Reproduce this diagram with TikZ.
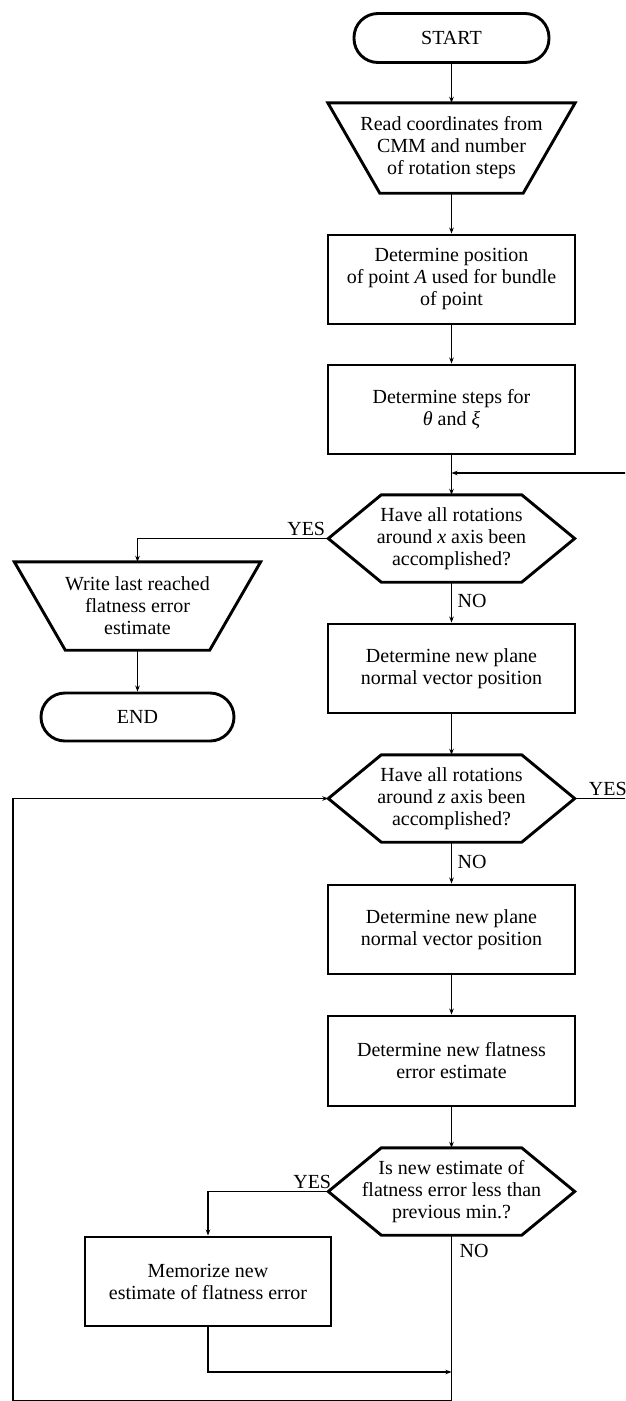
\documentclass[tikz,border=0pt]{standalone}
\usepackage{fontspec}
\setmainfont{Liberation Serif}
\usetikzlibrary{arrows.meta,calc}
\begin{document}
\begin{tikzpicture}[x=1pt,y=-1pt,
  txt/.style={font=\fontsize{20}{22}\selectfont, align=center, inner sep=0pt},
  procbox/.style={txt, draw, line width=2.9pt, minimum width=247pt, minimum height=89pt},
  shapearea/.style={txt, minimum width=246pt, minimum height=87pt},
  termbox/.style={txt, draw, line width=2.9pt, rounded corners=24pt, minimum width=195pt, minimum height=49pt},
  outline/.style={draw, line width=2.9pt, line join=miter},
  conn/.style={line width=1.5pt, -{Stealth[length=6pt,width=4.5pt]}},
  lbl/.style={font=\fontsize{20}{22}\selectfont, inner sep=0pt}]
\useasboundingbox (0,0) rectangle (625,1401);
\clip (0,0) rectangle (625,1401);

% main column
\node[termbox] (start) at (451.5,38) {START};
\node[shapearea, minimum width=247pt, minimum height=90pt] (read) at (451.5,148) {Read coordinates from\\CMM and number\\of rotation steps};
\draw[outline] (read.north west) -- (read.north east) -- ([xshift=-52pt]read.south east) -- ([xshift=52pt]read.south west) -- cycle;
\node[procbox] (pos) at (451.5,279.5) {Determine position\\of point \textit{A} used for bundle\\of point};
\node[procbox] (steps) at (451.5,409.5) {Determine steps for\\\textit{θ} and \textit{ξ}};

\node[shapearea] (h1) at (451.5,538.5) {Have all rotations\\around \textit{x} axis been\\accomplished?};
\draw[outline] (h1.west) -- ([xshift=53pt]h1.north west) -- ([xshift=-53pt]h1.north east) -- (h1.east) -- ([xshift=-53pt]h1.south east) -- ([xshift=53pt]h1.south west) -- cycle;

\node[shapearea, minimum width=246pt, minimum height=88pt] (wlast) at (137.5,606) {Write last reached\\flatness error\\estimate};
\draw[outline] (wlast.north west) -- (wlast.north east) -- ([xshift=-51pt]wlast.south east) -- ([xshift=51pt]wlast.south west) -- cycle;
\node[termbox, minimum width=193pt, minimum height=48pt] (end) at (137.5,717) {END};

\node[procbox] (plane1) at (451.5,668.5) {Determine new plane\\normal vector position};

\node[shapearea] (h2) at (451.5,798.5) {Have all rotations\\around \textit{z} axis been\\accomplished?};
\draw[outline] (h2.west) -- ([xshift=53pt]h2.north west) -- ([xshift=-53pt]h2.north east) -- (h2.east) -- ([xshift=-53pt]h2.south east) -- ([xshift=53pt]h2.south west) -- cycle;

\node[procbox] (plane2) at (451.5,929.5) {Determine new plane\\normal vector position};
\node[procbox, minimum height=90pt] (flat) at (451.5,1061) {Determine new flatness\\error estimate};

\node[shapearea] (h3) at (451.5,1191.5) {Is new estimate of\\flatness error less than\\previous min.?};
\draw[outline] (h3.west) -- ([xshift=53pt]h3.north west) -- ([xshift=-53pt]h3.north east) -- (h3.east) -- ([xshift=-53pt]h3.south east) -- ([xshift=53pt]h3.south west) -- cycle;

\node[procbox, minimum width=246pt] (mem) at (208,1281.5) {Memorize new\\estimate of flatness error};

% helper coordinates
\coordinate (rx) at (640,473);
\coordinate (mj) at (0,1372);
\coordinate (bot) at (13,1400.6);

% connectors
\draw[conn] (start.south) -- (read.north);
\draw[conn] (read.south) -- (pos.north);
\draw[conn] (pos.south) -- (steps.north);
\draw[conn] (steps.south) -- (h1.north);
\draw[conn] (h2.east) -| (rx) -- (rx -| h1.north);
\draw[conn] (h1.west) -| (wlast.north);
\draw[conn] (wlast.south) -- (end.north);
\draw[conn] (h1.south) -- (plane1.north);
\draw[conn] (plane1.south) -- (h2.north);
\draw[conn] (h2.south) -- (plane2.north);
\draw[conn] (plane2.south) -- (flat.north);
\draw[conn] (flat.south) -- (h3.north);
\draw[conn] (h3.west) -| (mem.north);
\draw[conn] (mem.south) |- (mj -| h3.south);
\draw[conn, line width=1.1pt] (h3.south) |- (bot) |- (h2.west);

% labels
\node[lbl, anchor=base east] (y1) at ($(h1.west)+(-3,-3.5)$) {YES};
\node[lbl, anchor=base west] (n1) at ($(h1.south)+(6,25)$) {NO};
\node[lbl, anchor=base west] (y2) at ($(h2.east)+(14,-3.5)$) {YES};
\node[lbl, anchor=base west] (n2) at ($(h2.south)+(6,26)$) {NO};
\node[lbl, anchor=base east] (y3) at ($(h3.west)+(3,-3.5)$) {YES};
\node[lbl, anchor=base west] (n3) at ($(h3.south)+(8,22)$) {NO};
\end{tikzpicture}
\end{document}
